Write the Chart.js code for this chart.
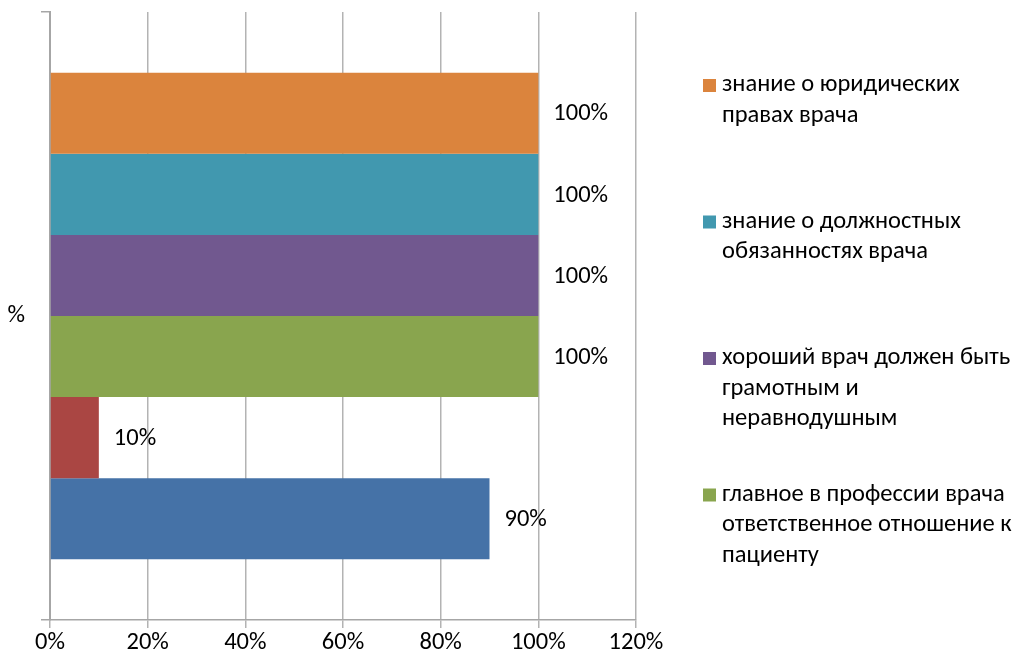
<!DOCTYPE html>
<html>
<head>
<meta charset="utf-8">
<script src="https://cdn.jsdelivr.net/npm/chart.js@4"></script>
<style>
  html, body { margin: 0; padding: 0; background: #fff; }
  #wrap { width: 1021px; height: 663px; }
</style>
</head>
<body>
<div id="wrap"><canvas id="chart"></canvas></div>
<script>
const categories = ['%'];

// legend text, already broken into lines like the original
const seriesNames = [
    ['знание о юридических', 'правах врача'],
    ['знание о должностных', 'обязанностях врача'],
    ['хороший врач должен быть', 'грамотным и', 'неравнодушным'],
    ['главное в профессии врача', 'ответственное отношение к', 'пациенту'],
    null,
    null,
];
const seriesValues = [100, 100, 100, 100, 10, 90];
const seriesColors = ['#DB843D', '#4198AF', '#71588F', '#89A54E', '#AA4643', '#4572A7'];

const xMax = 120;
const xStep = 20;

const fontFamily = 'Carlito, Calibri, Lato, sans-serif';
const fontSize = 24.5;

var valueLabels = {
    id: 'valueLabels',
    afterDatasetsDraw(chart) {
        let ctx = chart.ctx;
        ctx.save();
        ctx.font = fontSize + 'px ' + fontFamily;
        ctx.fillStyle = '#000';
        ctx.textBaseline = 'middle';
        ctx.textAlign = 'left';
        chart.data.datasets.forEach((ds, i) => {
            let bar = chart.getDatasetMeta(i).data[0];
            ctx.fillText(ds.data[0] + '%', bar.x + 15, bar.y + 1);
        });
        ctx.restore();
    }
};

var sideLegend = {
    id: 'sideLegend',
    afterDraw(chart) {
        let ctx = chart.ctx;
        let x = 703;
        let y = 85;
        let step = 136.5;
        let lineH = 30.5;
        ctx.save();
        ctx.font = fontSize + 'px ' + fontFamily;
        ctx.textBaseline = 'middle';
        ctx.textAlign = 'left';
        chart.data.datasets.forEach((ds, i) => {
            if (!seriesNames[i]) return;
            ctx.fillStyle = ds.backgroundColor;
            ctx.fillRect(x, y - 6, 13, 13);
            ctx.fillStyle = '#000';
            seriesNames[i].forEach((line, j) => {
                ctx.fillText(line, x + 19, y + j * lineH);
            });
            y += step;
        });
        ctx.restore();
    }
};

var myChart = new Chart(
    document.getElementById('chart'),
    {
        type: 'bar',
        data: {
            labels: categories,
            datasets: seriesValues.map((v, i) => ({
                label: seriesNames[i] ? seriesNames[i].join(' ') : '',
                data: [v],
                backgroundColor: seriesColors[i],
                borderWidth: 0,
                barPercentage: 1,
                categoryPercentage: 0.8,
            }))
        },
        options: {
            indexAxis: 'y',
            responsive: true,
            maintainAspectRatio: false,
            animation: false,
            layout: {
                padding: { top: 12, right: 385, left: 0, bottom: 0 }
            },
            plugins: {
                legend: { display: false },
                tooltip: { enabled: false },
            },
            scales: {
                x: {
                    min: 0,
                    max: xMax,
                    ticks: {
                        stepSize: xStep,
                        padding: 0,
                        color: '#000',
                        font: { family: fontFamily, size: fontSize },
                        callback: (v) => v + '%',
                    },
                    grid: {
                        color: '#b3b3b3',
                        lineWidth: 1.5,
                        tickLength: 8,
                    },
                    border: { color: '#a6a6a6', width: 1.5 },
                    afterFit: (scale) => {
                        scale.height = 43;
                        scale.paddingLeft = 0;
                        scale.paddingRight = 0;
                    },
                },
                y: {
                    offset: true,
                    ticks: {
                        padding: 16,
                        color: '#000',
                        font: { family: fontFamily, size: fontSize },
                    },
                    grid: {
                        offset: true,
                        drawOnChartArea: false,
                        color: '#a6a6a6',
                        lineWidth: 1.5,
                        tickLength: 9,
                    },
                    border: { color: '#a6a6a6', width: 2 },
                    afterFit: (scale) => {
                        scale.width = 50;
                        scale.paddingTop = 0;
                        scale.paddingBottom = 0;
                    },
                }
            }
        },
        plugins: [valueLabels, sideLegend]
    }
);
</script>
</body>
</html>
